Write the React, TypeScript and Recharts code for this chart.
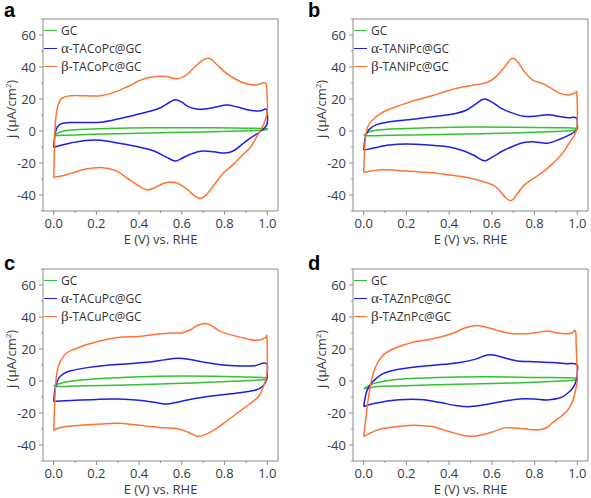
import React from 'react'
import { LineChart, Line, XAxis, YAxis, ReferenceArea, Legend } from 'recharts'

// CV loops, [E (V), j (uA/cm2)] in scan order: 0 -> 1 V, then back to 0 V
const coGC = [[0, -3], [0.02, -1.2], [0.06, 0.3], [0.12, 1], [0.25, 1.6], [0.45, 2], [0.65, 2.1], [0.85, 1.8], [1.0, 1.4], [0.99, 0.6], [0.93, 0.2], [0.75, -0.4], [0.55, -1], [0.35, -1.6], [0.15, -2.2], [0.04, -2.6], [0, -3]]
const coAlpha = [[0, -10.3], [0.005, -3], [0.015, 2], [0.035, 4.5], [0.08, 5.3], [0.15, 5.3], [0.22, 5.5], [0.3, 7.5], [0.38, 10], [0.45, 12.3], [0.5, 14.5], [0.54, 17.8], [0.57, 19.6], [0.6, 18], [0.63, 15.2], [0.67, 13.7], [0.71, 13.8], [0.76, 15], [0.81, 16.2], [0.86, 15], [0.92, 13], [0.97, 12.6], [0.995, 13.6], [1.0, 10], [0.998, 4], [0.97, 0], [0.92, -4.5], [0.88, -8.5], [0.84, -12.5], [0.8, -13.8], [0.75, -13], [0.69, -12.6], [0.64, -14.5], [0.6, -17], [0.57, -18.8], [0.53, -16.5], [0.47, -12.5], [0.4, -10], [0.3, -7.5], [0.22, -5.8], [0.15, -5.9], [0.08, -7.5], [0.03, -9], [0, -10.3]]
const coBeta = [[0, -29], [0.003, -15], [0.008, 5], [0.02, 16], [0.04, 20.5], [0.08, 22], [0.15, 22], [0.22, 22], [0.28, 24], [0.35, 28], [0.42, 32.5], [0.48, 34], [0.53, 34], [0.58, 32.6], [0.62, 35], [0.66, 40], [0.7, 44.5], [0.73, 45.3], [0.76, 42], [0.8, 37], [0.85, 32.5], [0.9, 29.5], [0.95, 28.8], [0.99, 30], [0.997, 26], [1.0, 12], [0.985, 5], [0.97, 1], [0.94, -6], [0.92, -10.3], [0.88, -15.5], [0.84, -21], [0.8, -25.5], [0.76, -32], [0.72, -39], [0.69, -42.2], [0.66, -40.5], [0.62, -36], [0.57, -32.2], [0.52, -32.5], [0.48, -35], [0.44, -36.8], [0.4, -34.5], [0.35, -30], [0.29, -24.8], [0.22, -22.8], [0.15, -23.8], [0.08, -26.5], [0.03, -28.3], [0, -29]]

const niGC = [[0, -2.8], [0.02, -0.8], [0.06, 0.5], [0.15, 1.4], [0.3, 2], [0.5, 2.5], [0.7, 2.4], [0.9, 2], [1.0, 1.6], [0.99, 0.4], [0.9, -0.3], [0.7, -1.2], [0.5, -1.8], [0.3, -2.3], [0.12, -2.7], [0.03, -2.9], [0, -2.8]]
const niAlpha = [[0, -12], [0.004, -7], [0.012, -2], [0.03, 1.5], [0.06, 4], [0.13, 6], [0.24, 7.5], [0.36, 9.5], [0.43, 11], [0.48, 13], [0.52, 16.5], [0.565, 20], [0.6, 18], [0.64, 14.5], [0.69, 11.5], [0.75, 9.2], [0.8, 9.2], [0.86, 10.2], [0.91, 9.2], [0.96, 8.3], [0.995, 8.2], [1.0, 5], [0.998, 1], [0.97, -2], [0.92, -5], [0.86, -7.6], [0.8, -6.8], [0.75, -7.2], [0.7, -9.5], [0.65, -12.5], [0.6, -16.5], [0.565, -18.6], [0.52, -15.5], [0.47, -12.5], [0.4, -10], [0.3, -8.8], [0.2, -8.2], [0.12, -8.8], [0.05, -10.5], [0, -12]]
const niBeta = [[0, -26], [0.003, -15], [0.008, -5], [0.02, 3], [0.05, 8], [0.1, 12.5], [0.18, 16.5], [0.25, 19.5], [0.32, 22], [0.39, 25], [0.46, 27.5], [0.53, 29], [0.58, 30.5], [0.62, 34], [0.66, 40], [0.695, 45.4], [0.72, 43.5], [0.75, 37.5], [0.79, 32], [0.84, 29.5], [0.88, 26.5], [0.92, 23.5], [0.96, 22.5], [0.99, 24], [0.996, 24.7], [1.0, 15], [0.998, 2], [0.985, -3], [0.96, -8], [0.93, -14], [0.88, -21], [0.83, -26.5], [0.79, -30], [0.75, -34], [0.72, -39], [0.69, -43.5], [0.66, -41], [0.62, -35], [0.57, -32], [0.5, -29.5], [0.43, -28], [0.35, -26.5], [0.25, -25.5], [0.15, -24.5], [0.08, -24.2], [0.03, -25], [0, -26]]

const cuGC = [[0, -3], [0.03, -1.5], [0.08, -0.2], [0.2, 1.4], [0.4, 2.7], [0.6, 3.1], [0.8, 2.8], [1.0, 2], [0.99, 1], [0.9, 0.2], [0.7, -1], [0.5, -1.8], [0.3, -2.6], [0.1, -3.2], [0.02, -3.4], [0, -3]]
const cuAlpha = [[0, -12.8], [0.004, -7], [0.012, -2], [0.025, 2], [0.045, 4.5], [0.08, 6.4], [0.15, 8.2], [0.25, 9.8], [0.35, 10.8], [0.45, 11.8], [0.52, 13.2], [0.58, 14.2], [0.63, 13.6], [0.7, 11.8], [0.78, 10.2], [0.87, 9.4], [0.94, 9.5], [0.995, 11], [1.0, 6], [0.997, 1], [0.98, -3], [0.95, -5.5], [0.88, -7.2], [0.8, -8.5], [0.7, -10.2], [0.62, -12], [0.57, -13.5], [0.53, -14.4], [0.48, -13.5], [0.4, -12], [0.3, -11.3], [0.2, -11.5], [0.1, -12], [0.03, -12.5], [0, -12.8]]
const cuBeta = [[0, -30.9], [0.003, -20], [0.008, -5], [0.015, 5], [0.03, 12], [0.06, 17.5], [0.1, 20], [0.16, 23], [0.24, 25.8], [0.32, 27.5], [0.4, 27.8], [0.48, 29.2], [0.56, 30], [0.6, 30], [0.64, 32], [0.67, 34.5], [0.71, 36], [0.74, 34.5], [0.78, 31], [0.84, 28.5], [0.9, 26.5], [0.95, 25.4], [0.99, 27], [0.997, 28.5], [1.0, 15], [0.998, 4], [0.985, -2], [0.96, -9.5], [0.91, -15], [0.86, -20], [0.8, -26], [0.74, -31.5], [0.7, -34], [0.67, -34.5], [0.63, -32], [0.58, -29.8], [0.52, -29.2], [0.45, -28.5], [0.38, -27.3], [0.3, -26.4], [0.22, -26.8], [0.14, -27.5], [0.06, -28.5], [0.02, -29.5], [0, -30.9]]

const znGC = [[0, -4.8], [0.02, -3.2], [0.05, -1.5], [0.1, 0], [0.2, 1.4], [0.4, 2.4], [0.6, 2.6], [0.8, 2.2], [1.0, 1.8], [0.99, 0.6], [0.9, -0.1], [0.7, -1.2], [0.5, -1.8], [0.3, -2.5], [0.15, -3.1], [0.05, -3.7], [0, -4.8]]
const znAlpha = [[0, -16], [0.006, -11], [0.013, -7], [0.023, -4], [0.035, -1.5], [0.054, 1], [0.075, 3.3], [0.1, 5.2], [0.15, 7], [0.22, 8.5], [0.3, 9.6], [0.38, 10.5], [0.45, 11.5], [0.52, 13.5], [0.58, 16.3], [0.62, 16], [0.67, 14], [0.72, 12.5], [0.8, 12], [0.88, 11.5], [0.95, 10.8], [0.998, 10.3], [1.0, 6], [0.998, 2], [0.985, -3], [0.96, -7], [0.92, -10.5], [0.86, -11.8], [0.8, -11.2], [0.73, -11.2], [0.66, -12.5], [0.58, -14.5], [0.5, -16], [0.44, -15.5], [0.36, -13.5], [0.28, -11.7], [0.2, -11.5], [0.13, -12.2], [0.06, -13.8], [0.02, -15], [0, -16]]
const znBeta = [[0, -34.6], [0.005, -29], [0.015, -18], [0.023, -10], [0.039, 2], [0.055, 8.5], [0.07, 12.4], [0.09, 16], [0.116, 18.6], [0.15, 20.8], [0.2, 23], [0.25, 24.8], [0.3, 25.8], [0.36, 27.5], [0.42, 30], [0.47, 33], [0.52, 34.6], [0.57, 33.8], [0.62, 31.8], [0.68, 29.8], [0.75, 29.5], [0.81, 30.3], [0.86, 31.2], [0.9, 30.2], [0.94, 29.5], [0.975, 30], [0.99, 31.5], [0.994, 25], [0.998, 10], [1.0, 0], [0.993, -5], [0.984, -10.3], [0.97, -15], [0.953, -18.6], [0.93, -21.5], [0.907, -23.7], [0.88, -26.5], [0.86, -28.9], [0.83, -30.3], [0.795, -30.5], [0.75, -29.8], [0.7, -29.3], [0.66, -29.3], [0.6, -32], [0.55, -33.8], [0.5, -34.6], [0.45, -33.5], [0.41, -32], [0.36, -30], [0.32, -28.5], [0.26, -27.8], [0.21, -27.8], [0.15, -28.6], [0.085, -29.9], [0.04, -32], [0.01, -34], [0, -34.6]]

const xTicks = [0, 0.1, 0.2, 0.3, 0.4, 0.5, 0.6, 0.7, 0.8, 0.9, 1.0]
const yTicks = [-50, -40, -30, -20, -10, 0, 10, 20, 30, 40, 50, 60, 70]

const FONT = '"Open Sans", sans-serif'
const TEXT = '#3a3a3a'
const AXIS = '#8c8c8c'
const COLORS = { gc: '#33c233', alpha: '#1e1ee6', beta: '#ff7433' }

const panels = [
  { letter: 'a', left: 0, top: 0, metal: 'Co', gc: coGC, alpha: coAlpha, beta: coBeta },
  { letter: 'b', left: 310, top: 0, metal: 'Ni', gc: niGC, alpha: niAlpha, beta: niBeta },
  { letter: 'c', left: 0, top: 250, metal: 'Cu', gc: cuGC, alpha: cuAlpha, beta: cuBeta },
  { letter: 'd', left: 310, top: 250, metal: 'Zn', gc: znGC, alpha: znAlpha, beta: znBeta },
]

const toPoints = (arr: number[][]) => arr.map(([x, y]) => ({ x, y }))

// smooth curve through the points; works on closed loops (x not monotonic)
function smoothLoop(context: any) {
  let pts: number[][] = []
  return {
    areaStart() {},
    areaEnd() {},
    lineStart() { pts = [] },
    point(x: number, y: number) { pts.push([+x, +y]) },
    lineEnd() {
      const n = pts.length
      if (!n) return
      context.moveTo(pts[0][0], pts[0][1])
      const dirs = pts.map((_, i) => {
        const a = pts[Math.max(i - 1, 0)]
        const b = pts[Math.min(i + 1, n - 1)]
        const dx = b[0] - a[0], dy = b[1] - a[1]
        const l = Math.hypot(dx, dy) || 1
        return [dx / l, dy / l]
      })
      for (let i = 0; i < n - 1; i++) {
        const p = pts[i], q = pts[i + 1]
        const L = Math.hypot(q[0] - p[0], q[1] - p[1]) / 3
        context.bezierCurveTo(p[0] + dirs[i][0] * L, p[1] + dirs[i][1] * L, q[0] - dirs[i + 1][0] * L, q[1] - dirs[i + 1][1] * L, q[0], q[1])
      }
    },
  }
}

function YTick({ x, y, payload }: any) {
  const v = payload.value
  const major = v % 20 === 0 && v >= -40 && v <= 60
  return (
    <g>
      <line x1={x} x2={x - (major ? 4 : 2)} y1={y} y2={y} stroke={AXIS} />
      {major && (
        <text x={x - 7} y={y} dy={4.5} textAnchor="end" fontSize={13} fontFamily={FONT} fill={TEXT}>{v}</text>
      )}
    </g>
  )
}

function XTick({ x, y, payload }: any) {
  const v = payload.value
  const major = Math.round(v * 10) % 2 === 0
  return (
    <g>
      <line x1={x} x2={x} y1={y} y2={y + (major ? 4 : 2)} stroke={AXIS} />
      {major && (
        <text x={x} y={y + 16.5} textAnchor="middle" fontSize={13} fontFamily={FONT} fill={TEXT}>{v.toFixed(1)}</text>
      )}
    </g>
  )
}

function YTitle({ viewBox }: any) {
  const cx = viewBox.x + 16
  const cy = viewBox.y + viewBox.height / 2 - 6
  return (
    <text x={cx} y={cy} transform={`rotate(-90 ${cx} ${cy})`} textAnchor="middle" fontSize={13} fontFamily={FONT} fill={TEXT}>
      j (μA/cm<tspan dy={-5} fontSize={8}>2</tspan><tspan dy={5}>)</tspan>
    </text>
  )
}

function XTitle({ viewBox }: any) {
  return (
    <text x={viewBox.x + viewBox.width / 2} y={viewBox.y + 33} textAnchor="middle" fontSize={13} fontFamily={FONT} fill={TEXT}>
      E (V) vs. RHE
    </text>
  )
}

function LegendBox({ payload }: any) {
  return (
    <div style={{ fontFamily: FONT, fontSize: 12, color: '#333' }}>
      {(payload || []).map((e: any) => {
        const name: string = e.value
        const greek = name[0] === 'α' || name[0] === 'β'
        return (
          <div key={name} style={{ display: 'flex', alignItems: 'center', height: 18, whiteSpace: 'nowrap' }}>
            <span style={{ width: 13, borderTop: `1.5px solid ${e.color}`, marginRight: 4 }} />
            {greek ? (
              <span><span style={{ fontFamily: '"Liberation Serif", serif', fontSize: 15 }}>{name[0]}</span>{name.slice(1)}</span>
            ) : name}
          </div>
        )
      })}
    </div>
  )
}

function Panel({ p }: { p: typeof panels[number] }) {
  return (
    <div style={{ position: 'absolute', left: p.left, top: p.top, width: 281, height: 250 }}>
      <LineChart width={281} height={250} margin={{ top: 19, right: 3, bottom: 5, left: 0 }}>
        <ReferenceArea x1={-0.05} x2={1.05} y1={-50} y2={70} fill="none" stroke={AXIS} strokeWidth={1} />
        <XAxis type="number" dataKey="x" domain={[-0.05, 1.05]} ticks={xTicks} interval={0} height={34}
          axisLine={false} tickLine={false} tickSize={0} tickMargin={0} tick={<XTick />} label={<XTitle />} />
        <YAxis type="number" domain={[-50, 70]} ticks={yTicks} interval={0} width={43}
          axisLine={false} tickLine={false} tickSize={0} tickMargin={0} tick={<YTick />} label={<YTitle />} />
        <Legend layout="vertical" align="center" verticalAlign="middle" content={<LegendBox />}
          wrapperStyle={{ left: 44, top: 21, width: 'auto' }} />
        <Line data={toPoints(p.gc)} dataKey="y" name="GC" type={smoothLoop as any} stroke={COLORS.gc} strokeWidth={1.5} dot={false} activeDot={false} isAnimationActive={false} />
        <Line data={toPoints(p.alpha)} dataKey="y" name={`α-TA${p.metal}Pc@GC`} type={smoothLoop as any} stroke={COLORS.alpha} strokeWidth={1.5} dot={false} activeDot={false} isAnimationActive={false} />
        <Line data={toPoints(p.beta)} dataKey="y" name={`β-TA${p.metal}Pc@GC`} type={smoothLoop as any} stroke={COLORS.beta} strokeWidth={1.5} dot={false} activeDot={false} isAnimationActive={false} />
      </LineChart>
    </div>
  )
}

export default function App() {
  return (
    <div style={{ position: 'absolute', left: 0, top: 0, width: 591, height: 498, overflow: 'hidden', background: '#fff' }}>
      {panels.map(p => <Panel key={p.letter} p={p} />)}
      {panels.map(p => (
        <div key={'l' + p.letter} style={{
          position: 'absolute', left: p.left + (p.left ? -2 : 4), top: p.top + (p.top ? 3 : 0),
          fontFamily: '"Liberation Sans", Arial, sans-serif', fontWeight: 'bold', fontSize: 20, lineHeight: '20px', color: '#000',
        }}>{p.letter}</div>
      ))}
    </div>
  )
}
